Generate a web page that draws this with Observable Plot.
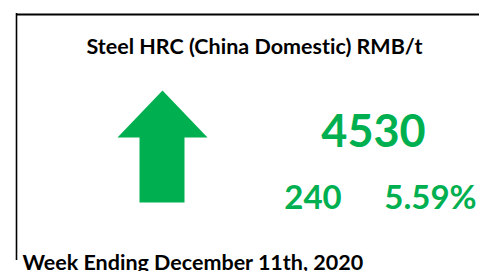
<!DOCTYPE html>
<html>
<head>
<meta charset="utf-8">
<script src="https://cdn.jsdelivr.net/npm/d3@7"></script>
<script src="https://cdn.jsdelivr.net/npm/@observablehq/plot@0.6"></script>
<style>
  html, body { margin: 0; padding: 0; background: #fff; overflow: hidden; }
  #chart svg { display: block; font-variant-ligatures: none; }
</style>
</head>
<body>
<div id="chart"></div>
<script>
// ---- data ----
const titles = ["Steel HRC (China Domestic) RMB/t"];
const prices = [4530];
const changes = [240];
const changePcts = [5.59];
const weekLabels = ["Week Ending December 11th, 2020"];

const green = "#00B050";
const font = "Lato, 'Open Sans', sans-serif";
const W = 479, H = 271;
const up = changes[0] >= 0;

// arrow outline (layout box), flipped when change is negative
const ax0 = 117, ax1 = 207, axc = 162, shaft0 = 139, shaft1 = 184;
const ayTop = 90, ayHead = 137, ayBot = 202;
const arrowPoly = [
  {x: axc, y: ayTop},
  {x: ax1, y: ayHead},
  {x: shaft1, y: ayHead},
  {x: shaft1, y: ayBot},
  {x: shaft0, y: ayBot},
  {x: shaft0, y: ayHead},
  {x: ax0, y: ayHead},
  {x: axc, y: ayTop}
];
if (!up) arrowPoly.forEach(p => p.y = ayTop + ayBot - p.y);

const chart = Plot.plot({
  width: W,
  height: H,
  margin: 0,
  x: {domain: [0, W], range: [0, W], axis: null},
  y: {domain: [0, H], range: [0, H], axis: null},
  style: {background: "#fff", fontVariantLigatures: "none"},
  marks: [
    Plot.ruleY([14], {x1: 16, x2: W, stroke: "#000", strokeWidth: 2}),
    Plot.ruleX([16], {y1: 13, y2: 260, stroke: "#000", strokeWidth: 1.6}),
    Plot.line(arrowPoly, {x: "x", y: "y", fill: green, stroke: "none", curve: "linear"}),
    Plot.text(titles, {x: 86, y: 53, text: d => d, fontFamily: font, fontWeight: "bold", fontSize: 21.5, fill: "#000", textAnchor: "start", lineAnchor: "bottom"}),
    Plot.text(prices, {x: 373, y: 146, text: d => String(d), fontFamily: font, fontWeight: "bold", fontSize: 45, fill: green, textAnchor: "middle", lineAnchor: "bottom"}),
    Plot.text(changes, {x: 312.5, y: 208, text: d => String(d), fontFamily: font, fontWeight: "bold", fontSize: 33, fill: green, textAnchor: "middle", lineAnchor: "bottom"}),
    Plot.text(changePcts, {x: 430, y: 208, text: d => d.toFixed(2) + "%", fontFamily: font, fontWeight: "bold", fontSize: 33, fill: green, textAnchor: "middle", lineAnchor: "bottom"}),
    Plot.text(weekLabels, {x: 22, y: 269, text: d => d, fontFamily: font, fontWeight: "bold", fontSize: 21.5, fill: "#000", textAnchor: "start", lineAnchor: "bottom"})
  ]
});
document.getElementById("chart").appendChild(chart);
</script>
</body>
</html>
